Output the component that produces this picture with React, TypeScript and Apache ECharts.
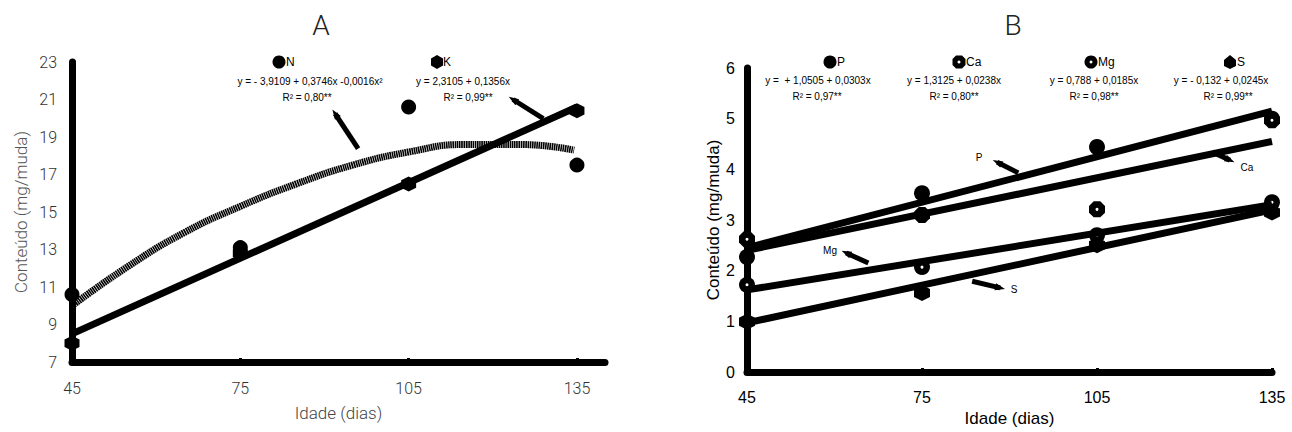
import React, { useEffect, useRef } from "react";
import * as echarts from "echarts";

// ---- tick labels ----
const dayTicksA = [45, 75, 105, 135];
const dayTicksB = [45, 75, 105, 135];
const yTicksA = [7, 9, 11, 13, 15, 17, 19, 21, 23];

// ---- panel A: N and K ----
const days = [45, 75, 105, 135];
const nObserved = [10.6, 13.1, 20.6, 17.5];
const kObserved = [8.0, 12.8, 16.5, 20.4];
const nFitDays = [45, 55, 65, 75, 85, 95, 105, 115, 125, 134.5];
const nFitValues = [10.0, 12.1, 13.9, 15.3, 16.5, 17.5, 18.2, 18.6, 18.6, 18.3];
const fitDays = [45, 135];
const kFitValues = [8.5, 20.6];

// ---- panel B: P, Ca, Mg, S ----
const pObserved = [2.27, 3.53, 4.44, 5.0];
const caObserved = [2.62, 3.1, 3.21, 4.97];
const mgObserved = [1.72, 2.07, 2.7, 3.35];
const sObserved = [0.99, 1.56, 2.5, 3.15];
const pFitValues = [2.45, 5.15];
const caFitValues = [2.4, 4.55];
const mgFitValues = [1.62, 3.3];
const sFitValues = [0.97, 3.2];

// ---- pointer arrows (tail x, tail y, tip x, tip y) in data units ----
const arrowsA = [
  [96.0, 18.38, 91.9, 20.24],
  [129.0, 19.98, 123.6, 21.0],
];
const arrowsB = [
  [91.5, 3.93, 87.9, 4.14],
  [65.8, 2.15, 62.0, 2.35],
  [83.6, 1.79, 88.4, 1.66],
  [124.8, 4.34, 127.8, 4.18],
];

const zip = (xs: number[], ys: number[]) => xs.map((x, i) => [x, ys[i]]);

const HEX = "path://M0,-10L8.66,-5L8.66,5L0,10L-8.66,5L-8.66,-5Z";
const OCT = "path://M-4.1,-10L4.1,-10L10,-4.1L10,4.1L4.1,10L-4.1,10L-10,4.1L-10,-4.1Z";

const LIGHT = "Roboto, 'Open Sans', sans-serif";
const ARIAL = "'Liberation Sans', Arial, sans-serif";

function arrowMarkLine(list: number[][]) {
  return {
    silent: true,
    symbol: ["none", "triangle"],
    symbolSize: [7, 10],
    label: { show: false },
    emphasis: { disabled: true },
    lineStyle: { color: "#000", width: 5, type: "solid", opacity: 1 },
    data: list.map((a) => [{ coord: [a[0], a[1]] }, { coord: [a[2], a[3]] }]),
  };
}

function text(x: number, y: number, t: string, size: number, align = "center", family = ARIAL, weight: any = "normal", fill = "#000") {
  return {
    type: "text",
    x,
    y,
    silent: true,
    style: { text: t, fill, fontSize: size, fontFamily: family, fontWeight: weight, align, verticalAlign: "middle" },
  };
}

export default function App() {
  const ref = useRef<HTMLDivElement>(null);
  useEffect(() => {
    if (!ref.current) return;
    const chart = echarts.init(ref.current, null, { renderer: "svg" });

    const axisLineStyle = { show: true, onZero: false, lineStyle: { color: "#000", width: 7 } };
    const tickStyle = (vals?: number[]) => ({ show: true, inside: true, length: 4, ...(vals ? { customValues: vals } : {}), lineStyle: { color: "#000", width: 3 } });

    const scatter = (xi: number, symbol: string, size: number, data: number[], color = "#000") => ({
      type: "scatter", xAxisIndex: xi, yAxisIndex: xi, symbol, symbolSize: size, silent: true,
      itemStyle: { color, opacity: 1 }, emphasis: { disabled: true }, data: zip(days, data),
    });
    const fit = (xi: number, xs: number[], ys: number[], extra: any = {}) => ({
      type: "line", xAxisIndex: xi, yAxisIndex: xi, showSymbol: false, silent: true,
      data: zip(xs, ys), lineStyle: { color: "#000", width: 7, opacity: 1 }, emphasis: { disabled: true }, ...extra,
    });

    const option: any = {
      animation: false,
      backgroundColor: "#fff",
      grid: [
        { left: 72, top: 62, width: 533, height: 300 },
        { left: 747, top: 68, width: 525, height: 304 },
      ],
      xAxis: [
        {
          gridIndex: 0, type: "value", min: 45, max: 140,
          axisLine: axisLineStyle, axisTick: tickStyle(dayTicksA), splitLine: { show: false },
          axisLabel: { customValues: dayTicksA, margin: 18, color: "#333", fontSize: 16, fontFamily: LIGHT, fontWeight: 300 },
          name: "Idade (dias)", nameLocation: "middle", nameGap: 42,
          nameTextStyle: { color: "#444", fontSize: 17, fontFamily: LIGHT, fontWeight: 300 },
        },
        {
          gridIndex: 1, type: "value", min: 45, max: 135,
          axisLine: axisLineStyle, axisTick: tickStyle(dayTicksB), splitLine: { show: false },
          axisLabel: { customValues: dayTicksB, margin: 17, color: "#000", fontSize: 16, fontFamily: ARIAL },
          name: "Idade (dias)", nameLocation: "middle", nameGap: 37,
          nameTextStyle: { color: "#000", fontSize: 17, fontFamily: ARIAL },
        },
      ],
      yAxis: [
        {
          gridIndex: 0, type: "value", min: 7, max: 23,
          axisLine: axisLineStyle, axisTick: tickStyle(yTicksA), splitLine: { show: false },
          axisLabel: { customValues: yTicksA, margin: 15, color: "#333", fontSize: 16, fontFamily: LIGHT, fontWeight: 300 },
          name: "Conteúdo (mg/muda)", nameLocation: "middle", nameGap: 43,
          nameTextStyle: { color: "#555", fontSize: 17, fontFamily: LIGHT, fontWeight: 300 },
        },
        {
          gridIndex: 1, type: "value", min: 0, max: 6, interval: 1,
          axisLine: axisLineStyle, axisTick: tickStyle(), splitLine: { show: false },
          axisLabel: { margin: 12, color: "#000", fontSize: 16, fontFamily: ARIAL },
          name: "Conteúdo (mg/muda)", nameLocation: "middle", nameGap: 25,
          nameTextStyle: { color: "#000", fontSize: 17, fontFamily: ARIAL },
        },
      ],
      series: [
        // ---- A ----
        fit(0, nFitDays, nFitValues, { smooth: true, lineStyle: { color: "#000", width: 7, type: [1.6, 0.6], opacity: 1 } }),
        fit(0, fitDays, kFitValues, { markLine: arrowMarkLine(arrowsA) }),
        scatter(0, "circle", 15, nObserved),
        scatter(0, HEX, 15, kObserved),
        // ---- B ----
        fit(1, fitDays, pFitValues, { markLine: arrowMarkLine(arrowsB) }),
        fit(1, fitDays, caFitValues),
        fit(1, fitDays, mgFitValues),
        fit(1, fitDays, sFitValues),
        scatter(1, "circle", 16, pObserved),
        scatter(1, OCT, 16, caObserved),
        scatter(1, "circle", 16, mgObserved),
        scatter(1, HEX, 16, sObserved),
        scatter(1, "circle", 3, caObserved, "#fff"),
        scatter(1, "circle", 3, mgObserved, "#fff"),
      ],
      graphic: [
        text(321, 25, "A", 28, "center", LIGHT, 300, "#222"),
        text(1013, 25, "B", 28, "center", LIGHT, 300, "#222"),
        // legend A
        { type: "circle", silent: true, shape: { cx: 279, cy: 62, r: 6.5 }, style: { fill: "#000" } },
        text(286, 62, "N", 12, "left"),
        text(310, 81, "y = - 3,9109 + 0,3746x -0,0016x²", 10),
        text(307, 97, "R² = 0,80**", 10),
        { type: "polygon", silent: true, shape: { points: [[437, 55], [443, 58.5], [443, 65.5], [437, 69], [431, 65.5], [431, 58.5]] }, style: { fill: "#000" } },
        text(443, 62, "K", 12, "left"),
        text(463, 81, "y = 2,3105 + 0,1356x", 10),
        text(468, 97, "R² = 0,99**", 10),
        // legend B
        { type: "circle", silent: true, shape: { cx: 830, cy: 62, r: 6.5 }, style: { fill: "#000" } },
        text(837, 62, "P", 12, "left"),
        text(818, 80, "y =  + 1,0505 + 0,0303x", 10),
        text(817, 96, "R² = 0,97**", 10),
        { type: "polygon", silent: true, shape: { points: [[956, 55.5], [962, 55.5], [965.5, 59], [965.5, 65], [962, 68.5], [956, 68.5], [952.5, 65], [952.5, 59]] }, style: { fill: "#000" } },
        { type: "circle", silent: true, shape: { cx: 959, cy: 62, r: 1.5 }, style: { fill: "#fff" } },
        text(966, 62, "Ca", 12, "left"),
        text(954, 80, "y = 1,3125 + 0,0238x", 10),
        text(954, 96, "R² = 0,80**", 10),
        { type: "circle", silent: true, shape: { cx: 1091, cy: 62, r: 6.5 }, style: { fill: "#000" } },
        { type: "circle", silent: true, shape: { cx: 1091, cy: 62, r: 1.5 }, style: { fill: "#fff" } },
        text(1098, 62, "Mg", 12, "left"),
        text(1094, 80, "y = 0,788 + 0,0185x", 10),
        text(1094, 96, "R² = 0,98**", 10),
        { type: "polygon", silent: true, shape: { points: [[1230, 55], [1236, 60], [1236, 66], [1230, 69], [1224, 66], [1224, 60]] }, style: { fill: "#000" } },
        text(1237, 62, "S", 12, "left"),
        text(1221, 80, "y = - 0,132 + 0,0245x", 10),
        text(1228, 96, "R² = 0,99**", 10),
        // pointer labels B
        text(979, 157, "P", 10),
        text(830, 250, "Mg", 10),
        text(1014, 289, "S", 10),
        text(1247, 167, "Ca", 10),
      ],
    };

    chart.setOption(option);
    return () => chart.dispose();
  }, []);

  return (
    <div
      ref={ref}
      style={{ position: "fixed", left: 0, top: 0, width: 1292, height: 432, background: "#fff" }}
    />
  );
}
